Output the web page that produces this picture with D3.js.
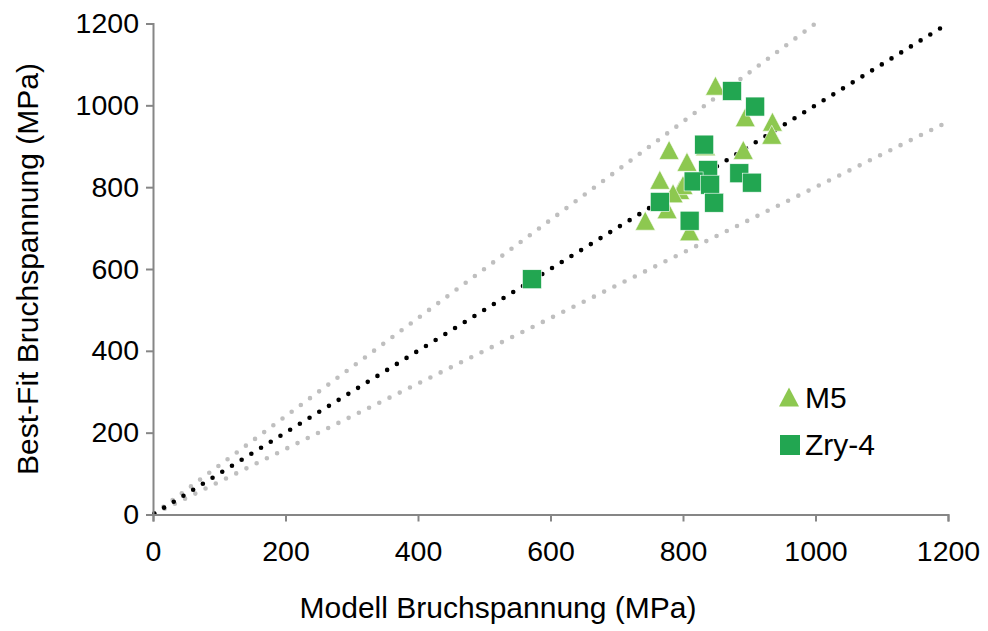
<!DOCTYPE html>
<html>
<head>
<meta charset="utf-8">
<title>Bruchspannung</title>
<script src="https://d3js.org/d3.v7.min.js"></script>
<style>
  body { margin: 0; background: #fff; }
  text { font-family: "Liberation Sans", Arial, sans-serif; fill: #000; }
</style>
</head>
<body>
<svg width="988" height="631"></svg>
<script>
// measured values (MPa)
const m5Model = [849, 894, 935, 934, 779, 891, 834, 806, 765, 795, 800, 785, 776, 743, 810];
const m5Fit   = [1048, 971, 960, 928, 891, 891, 900, 862, 818, 793, 805, 785, 746, 718, 692];
const zryModel = [572, 874, 909, 832, 838, 816, 841, 847, 885, 904, 765, 810];
const zryFit   = [575, 1035, 997, 904, 842, 814, 806, 762, 834, 811, 764, 718];
const tickValues = [0, 200, 400, 600, 800, 1000, 1200];
const legendLabels = ["M5", "Zry-4"];

const svg = d3.select("svg");
const x = d3.scaleLinear().domain([0, 1200]).range([153, 948]);
const y = d3.scaleLinear().domain([0, 1200]).range([514.5, 23.5]);
const tickFont = "28.5px", labelFont = "30px";

// reference lines
const refLines = [
  { pts: [[0, 0], [1000, 1200]], color: "#bfbfbf" },
  { pts: [[0, 0], [1200, 960]], color: "#bfbfbf" },
  { pts: [[0, 0], [1190, 1190]], color: "#000" }
];
const line = d3.line().x(d => x(d[0])).y(d => y(d[1]));
refLines.forEach(r => {
  svg.append("path")
    .attr("d", line(r.pts))
    .attr("fill", "none")
    .attr("stroke", r.color)
    .attr("stroke-width", 4.6)
    .attr("stroke-linecap", "round")
    .attr("stroke-dasharray", "0 11.4")
    .attr("stroke-dashoffset", -13);
});

// axes
const fmt = d3.format("d");
const xAxis = svg.append("g")
  .attr("transform", "translate(0," + y(0) + ")")
  .call(d3.axisBottom(x).tickValues(tickValues).tickFormat(fmt).tickSize(7).tickPadding(19));
const yAxis = svg.append("g")
  .attr("transform", "translate(" + x(0) + ",0)")
  .call(d3.axisLeft(y).tickValues(tickValues).tickFormat(fmt).tickSize(7).tickPadding(7));
[xAxis, yAxis].forEach(a => {
  a.select(".domain").attr("stroke", "#868686").attr("stroke-width", 2);
  a.selectAll(".tick line").attr("stroke", "#868686").attr("stroke-width", 2);
  a.selectAll(".tick text").style("font-size", tickFont).attr("font-family", "Liberation Sans, Arial, sans-serif").attr("fill", "#000");
});

// markers
function tri(cx, cy) {
  const w = 20, h = 19;
  return "M" + cx + "," + (cy - h / 2) + "L" + (cx + w / 2) + "," + (cy + h / 2) + "L" + (cx - w / 2) + "," + (cy + h / 2) + "Z";
}
const triColor = "#8dc850", sqColor = "#22a651", sqSize = 19;

svg.append("g").selectAll("path")
  .data(m5Model.map((d, i) => [d, m5Fit[i]]))
  .join("path")
  .attr("d", d => tri(x(d[0]), y(d[1])))
  .attr("fill", triColor)
  .attr("stroke", "#fff").attr("stroke-width", 0.6);

svg.append("g").selectAll("rect")
  .data(zryModel.map((d, i) => [d, zryFit[i]]))
  .join("rect")
  .attr("x", d => x(d[0]) - sqSize / 2)
  .attr("y", d => y(d[1]) - sqSize / 2)
  .attr("width", sqSize).attr("height", sqSize)
  .attr("fill", sqColor)
  .attr("stroke", "#fff").attr("stroke-width", 0.6);

// legend
const lg = svg.append("g");
lg.append("path").attr("d", tri(789, 397)).attr("fill", triColor);
lg.append("rect").attr("x", 780).attr("y", 435).attr("width", 20).attr("height", 20).attr("fill", sqColor);
lg.selectAll("text").data(legendLabels).join("text")
  .attr("x", 805)
  .attr("y", (d, i) => 408 + i * 47)
  .style("font-size", labelFont)
  .text(d => d);

// axis titles
svg.append("text")
  .attr("x", 498).attr("y", 618)
  .attr("text-anchor", "middle")
  .style("font-size", labelFont)
  .text("Modell Bruchspannung (MPa)");
svg.append("text")
  .attr("transform", "translate(38,269) rotate(-90)")
  .attr("text-anchor", "middle")
  .style("font-size", labelFont)
  .text("Best-Fit Bruchspannung (MPa)");
</script>
</body>
</html>
